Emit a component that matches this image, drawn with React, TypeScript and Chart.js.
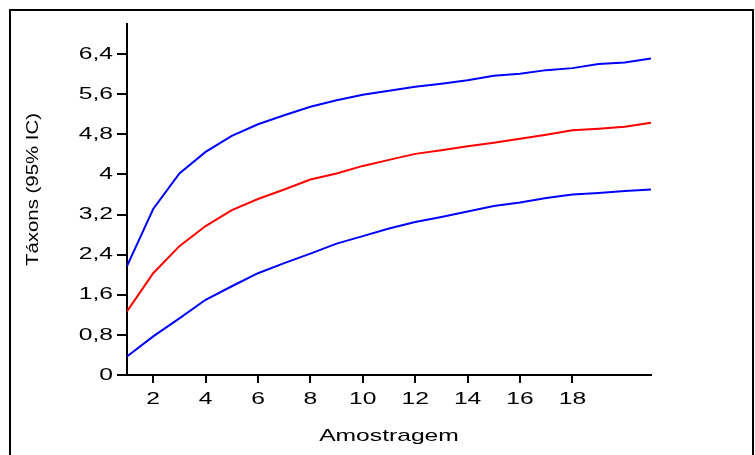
import React, { useEffect, useRef } from "react";
import { Chart, registerables } from "chart.js";

Chart.register(...registerables);

const samples = [1, 2, 3, 4, 5, 6, 7, 8, 9, 10, 11, 12, 13, 14, 15, 16, 17, 18, 19, 20, 21];
const upperCI = [2.17, 3.31, 4.02, 4.45, 4.77, 5.0, 5.18, 5.35, 5.48, 5.59, 5.67, 5.75, 5.81, 5.88, 5.97, 6.01, 6.08, 6.12, 6.2, 6.23, 6.31];
const meanTaxa = [1.27, 2.03, 2.57, 2.97, 3.29, 3.51, 3.7, 3.9, 4.02, 4.17, 4.29, 4.41, 4.48, 4.56, 4.63, 4.71, 4.79, 4.88, 4.91, 4.95, 5.03];
const lowerCI = [0.37, 0.77, 1.13, 1.5, 1.77, 2.03, 2.23, 2.42, 2.62, 2.77, 2.92, 3.05, 3.15, 3.26, 3.37, 3.44, 3.53, 3.6, 3.63, 3.67, 3.7];
const xTicks = [2, 4, 6, 8, 10, 12, 14, 16, 18];
const yTicks = [0, 0.8, 1.6, 2.4, 3.2, 4, 4.8, 5.6, 6.4];
const xTitle = "Amostragem";
const yTitle = "Táxons (95% IC)";

const FONT = "'Liberation Sans', Arial, sans-serif";

// The reference text is drawn horizontally widened; emulate it by scaling each text run about its anchor.
const textStretch = (text: string) => (text === yTitle ? { sx: 1.2, dx: 10 } : { sx: 1.45, dx: 0 });

const framePlugin = {
  id: "frame",
  beforeDraw(chart: any) {
    const ctx = chart.ctx;
    ctx.save();
    ctx.fillStyle = "#ffffff";
    ctx.fillRect(0, 0, chart.width, chart.height);
    ctx.strokeStyle = "#000000";
    ctx.lineWidth = 2;
    ctx.beginPath();
    ctx.moveTo(10, chart.height + 5);
    ctx.lineTo(10, 10);
    ctx.lineTo(753, 10);
    ctx.lineTo(753, chart.height + 5);
    ctx.stroke();
    ctx.restore();
    if (!ctx.__origFillText) {
      const orig = ctx.fillText;
      ctx.__origFillText = orig;
      ctx.fillText = function (text: string, x: number, y: number, maxWidth?: number) {
        const { sx, dx } = textStretch(String(text));
        this.save();
        this.translate(x + dx, y);
        this.scale(sx, 1);
        if (maxWidth !== undefined) orig.call(this, text, 0, 0, maxWidth / sx);
        else orig.call(this, text, 0, 0);
        this.restore();
      };
    }
  },
  afterDraw(chart: any) {
    const ctx = chart.ctx;
    if (ctx.__origFillText) {
      ctx.fillText = ctx.__origFillText;
      delete ctx.__origFillText;
    }
  },
};

const toPoints = (vals: number[]) => vals.map((v, i) => ({ x: samples[i], y: v }));

export default function App() {
  const ref = useRef<HTMLCanvasElement | null>(null);
  useEffect(() => {
    if (!ref.current) return;
    const chart = new Chart(ref.current, {
      type: "line",
      data: {
        datasets: [
          { label: "IC superior", data: toPoints(upperCI), borderColor: "#0000ff", borderWidth: 2, pointRadius: 0, fill: false, tension: 0 },
          { label: "Táxons", data: toPoints(meanTaxa), borderColor: "#ff0000", borderWidth: 2, pointRadius: 0, fill: false, tension: 0 },
          { label: "IC inferior", data: toPoints(lowerCI), borderColor: "#0000ff", borderWidth: 2, pointRadius: 0, fill: false, tension: 0 },
        ],
      },
      options: {
        animation: false,
        responsive: false,
        devicePixelRatio: 1,
        layout: { padding: { left: 0, top: 24, right: 104, bottom: 0 } },
        plugins: { legend: { display: false }, tooltip: { enabled: false } },
        scales: {
          x: {
            type: "linear",
            min: 1,
            max: 21,
            afterBuildTicks: (s: any) => { s.ticks = xTicks.map((v) => ({ value: v })); },
            afterFit: (s: any) => { s.height = 80; },
            grid: { drawOnChartArea: false, drawTicks: true, tickLength: 8, color: "#000", lineWidth: 2 },
            border: { display: true, color: "#000", width: 2 },
            ticks: { autoSkip: false, maxRotation: 0, padding: 6, color: "#000", font: { family: FONT, size: 17 }, callback: (v: any) => String(v) },
            title: { display: true, text: xTitle, color: "#000", font: { family: FONT, size: 17 }, padding: { top: 0, bottom: 8 } },
          },
          y: {
            type: "linear",
            min: 0,
            max: 7,
            afterBuildTicks: (s: any) => { s.ticks = yTicks.map((v) => ({ value: v })); },
            afterFit: (s: any) => { s.width = 127; },
            grid: { drawOnChartArea: false, drawTicks: true, tickLength: 10, color: "#000", lineWidth: 2 },
            border: { display: true, color: "#000", width: 2 },
            ticks: { autoSkip: false, padding: 4, color: "#000", font: { family: FONT, size: 17 }, callback: (v: any) => String(Number(Number(v).toFixed(1))).replace(".", ",") },
            title: { display: true, text: yTitle, color: "#000", font: { family: FONT, size: 17 }, padding: { top: 23, bottom: 0 } },
          },
        },
      },
      plugins: [framePlugin],
    } as any);
    return () => chart.destroy();
  }, []);
  return (
    <div style={{ position: "absolute", left: 0, top: 0, width: 755, height: 455 }}>
      <canvas ref={ref} width={755} height={455} style={{ width: 755, height: 455 }} />
    </div>
  );
}
